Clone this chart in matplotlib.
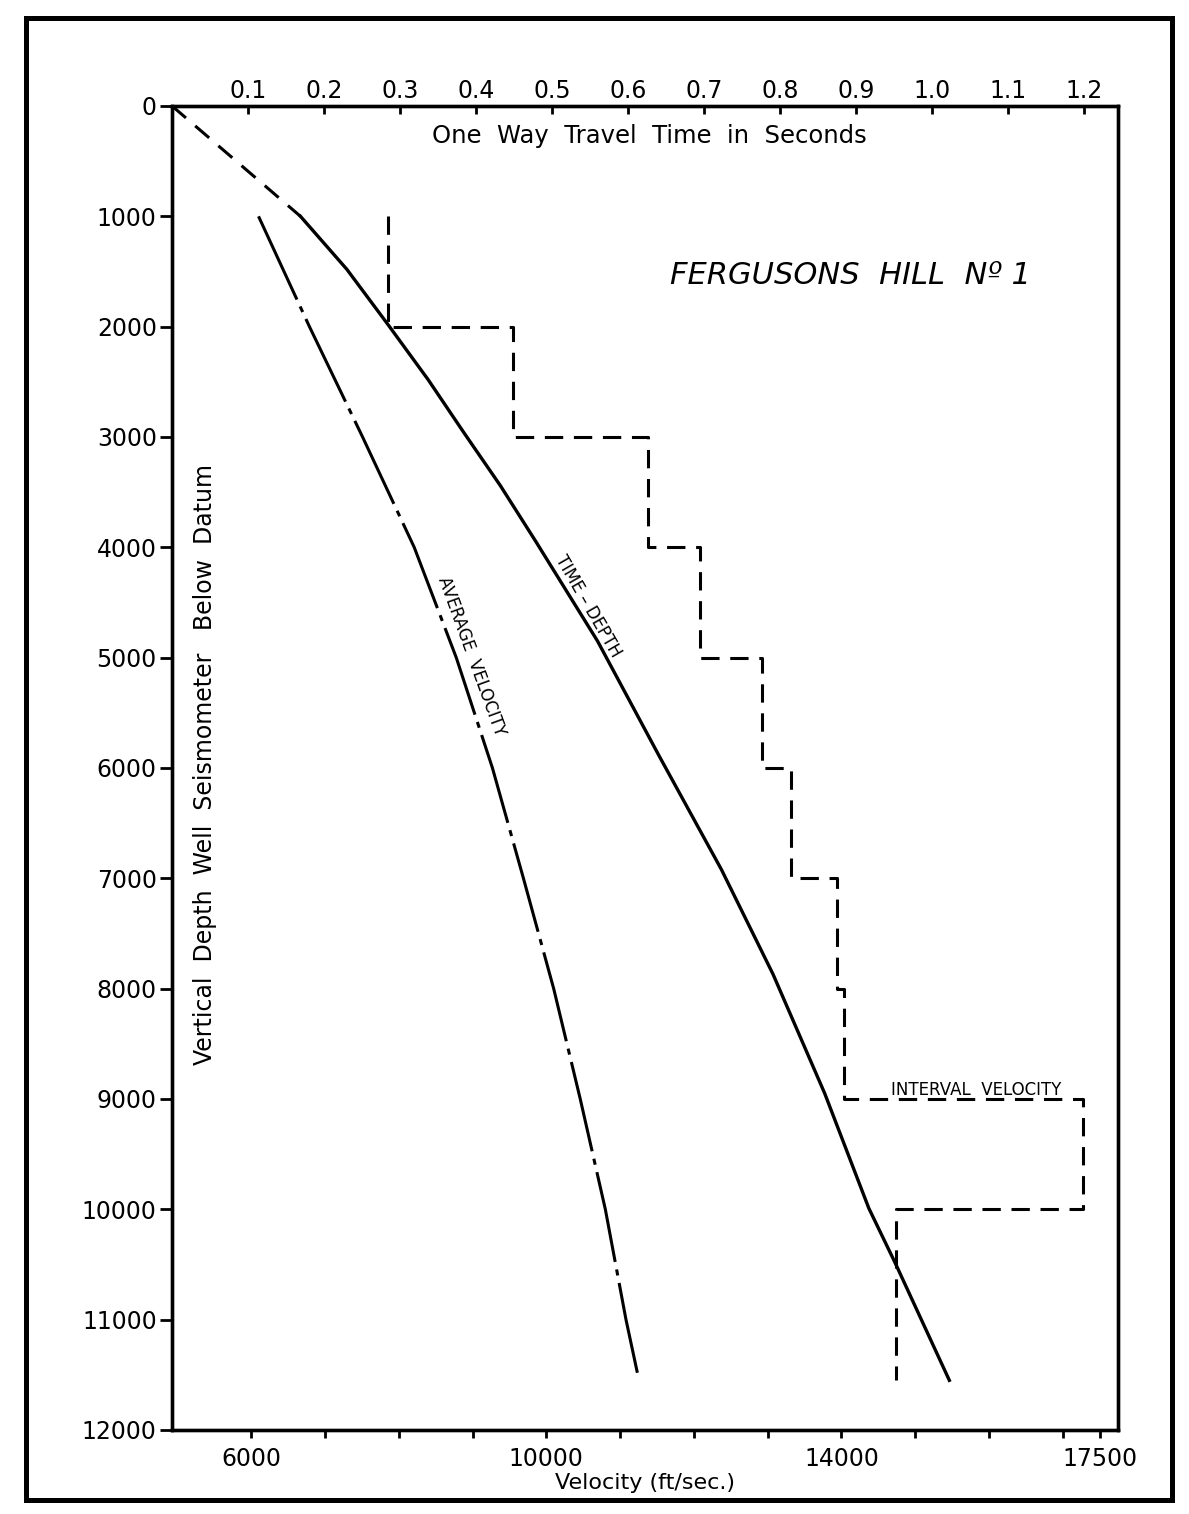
import numpy as np
import matplotlib
matplotlib.use("Agg")
import matplotlib.pyplot as plt
from matplotlib.patches import Rectangle

# time-depth curve (one way time, seconds) -- first leg is dashed
td_time = [0.0, 0.169]
td_depth = [0, 1000]
td_time2 = [0.169, 0.230, 0.283, 0.337, 0.384, 0.432, 0.479, 0.560, 0.641,
            0.723, 0.791, 0.859, 0.917, 0.952, 1.023]
td_depth2 = [1000, 1480, 1970, 2480, 2960, 3440, 3950, 4850, 5890,
             6920, 7870, 8950, 9990, 10490, 11550]

# average velocity (ft/sec)
avg_depth = [1000, 2000, 3000, 4000, 5000, 6000, 7000, 8000, 9000, 10000, 11000, 11500]
avg_vel = [6100, 6790, 7510, 8210, 8780, 9270, 9690, 10100, 10460, 10800, 11080, 11240]

# interval velocity, one value per depth interval
int_bounds = [1000, 2000, 3000, 4000, 5000, 6000, 7000, 8000, 9000, 10000, 11550]
int_vel = [7860, 9550, 11380, 12080, 12920, 13320, 13940, 14030, 17280, 14740]

depth_ticks = list(range(0, 13000, 1000))
time_ticks = [0.1, 0.2, 0.3, 0.4, 0.5, 0.6, 0.7, 0.8, 0.9, 1.0, 1.1, 1.2]
time_labels = ["0.1", "0.2", "0.3", "0.4", "0.5", "0.6", "0.7", "0.8", "0.9", "1.0", "1.1", "1.2"]
vel_ticks = [6000, 7000, 8000, 9000, 10000, 11000, 12000, 13000, 14000, 15000, 16000, 17000, 17500]
vel_labels = ["6000", "", "", "", "10000", "", "", "", "14000", "", "", "", "17500"]

plt.rcParams['font.family'] = ['DejaVu Sans']

fig = plt.figure(figsize=(11.89, 15.14), dpi=100)
ax = fig.add_axes([0.1447, 0.0555, 0.7956, 0.8745])

ax.set_xlim(4928, 17748)
ax.set_ylim(12000, 0)

# interval velocity step line
iv_x = np.repeat(int_vel, 2)
iv_y = np.repeat(int_bounds, 2)[1:-1]
ax.plot(iv_x, iv_y, color="black", lw=2.2, linestyle=(0, (6, 3.5)))

# average velocity
ax.plot(avg_vel, avg_depth, color="black", lw=2.2, linestyle=(0, (30, 2.5, 2, 2.5)))

ax.set_yticks(depth_ticks)
ax.set_yticklabels([str(d) for d in depth_ticks])
ax.set_xticks(vel_ticks)
ax.set_xticklabels(vel_labels)
ax.tick_params(axis="y", direction="out", length=9, width=2, labelsize=17, pad=2)
ax.tick_params(axis="x", direction="out", length=6, width=2, labelsize=17, pad=6)
for s in ax.spines.values():
    s.set_linewidth(2.4)

ax.set_xlabel("Velocity (ft/sec.)", fontsize=16, labelpad=2)

# top axis: travel time
axt = ax.twiny()
axt.set_xlim(0, 1.245)
axt.set_xticks(time_ticks)
axt.set_xticklabels(time_labels)
axt.tick_params(axis="x", direction="in", length=6, width=2, labelsize=17, pad=2)
for s in axt.spines.values():
    s.set_linewidth(2.4)

axt.plot(td_time, td_depth, color="black", lw=2.2, linestyle=(0, (6, 4)))
axt.plot(td_time2, td_depth2, color="black", lw=2.4)

ax.text(0.505, 0.977, "One  Way  Travel  Time  in  Seconds", transform=ax.transAxes,
        ha="center", va="center", fontsize=17.5)
ax.text(0.035, 0.503, "Vertical  Depth  Well  Seismometer   Below  Datum", transform=ax.transAxes,
        ha="center", va="center", rotation=90, fontsize=17)
ax.text(0.717, 0.872, "FERGUSONS  HILL  Nº 1", transform=ax.transAxes,
        ha="center", va="center", fontsize=22, fontstyle="italic")

ax.text(10560, 4530, "TIME – DEPTH", rotation=-60, rotation_mode="anchor",
        ha="center", va="center", fontsize=12)
ax.text(8980, 4990, "AVERAGE  VELOCITY", rotation=-70, rotation_mode="anchor",
        ha="center", va="center", fontsize=12)
ax.text(15826, 8923, "INTERVAL  VELOCITY", ha="center", va="center", fontsize=12)

# outer frame
fig.patches.append(Rectangle((0.022, 0.009), 0.964, 0.979, transform=fig.transFigure,
                             fill=False, lw=3.6, edgecolor="black"))

fig.savefig("out.png", dpi=100)
